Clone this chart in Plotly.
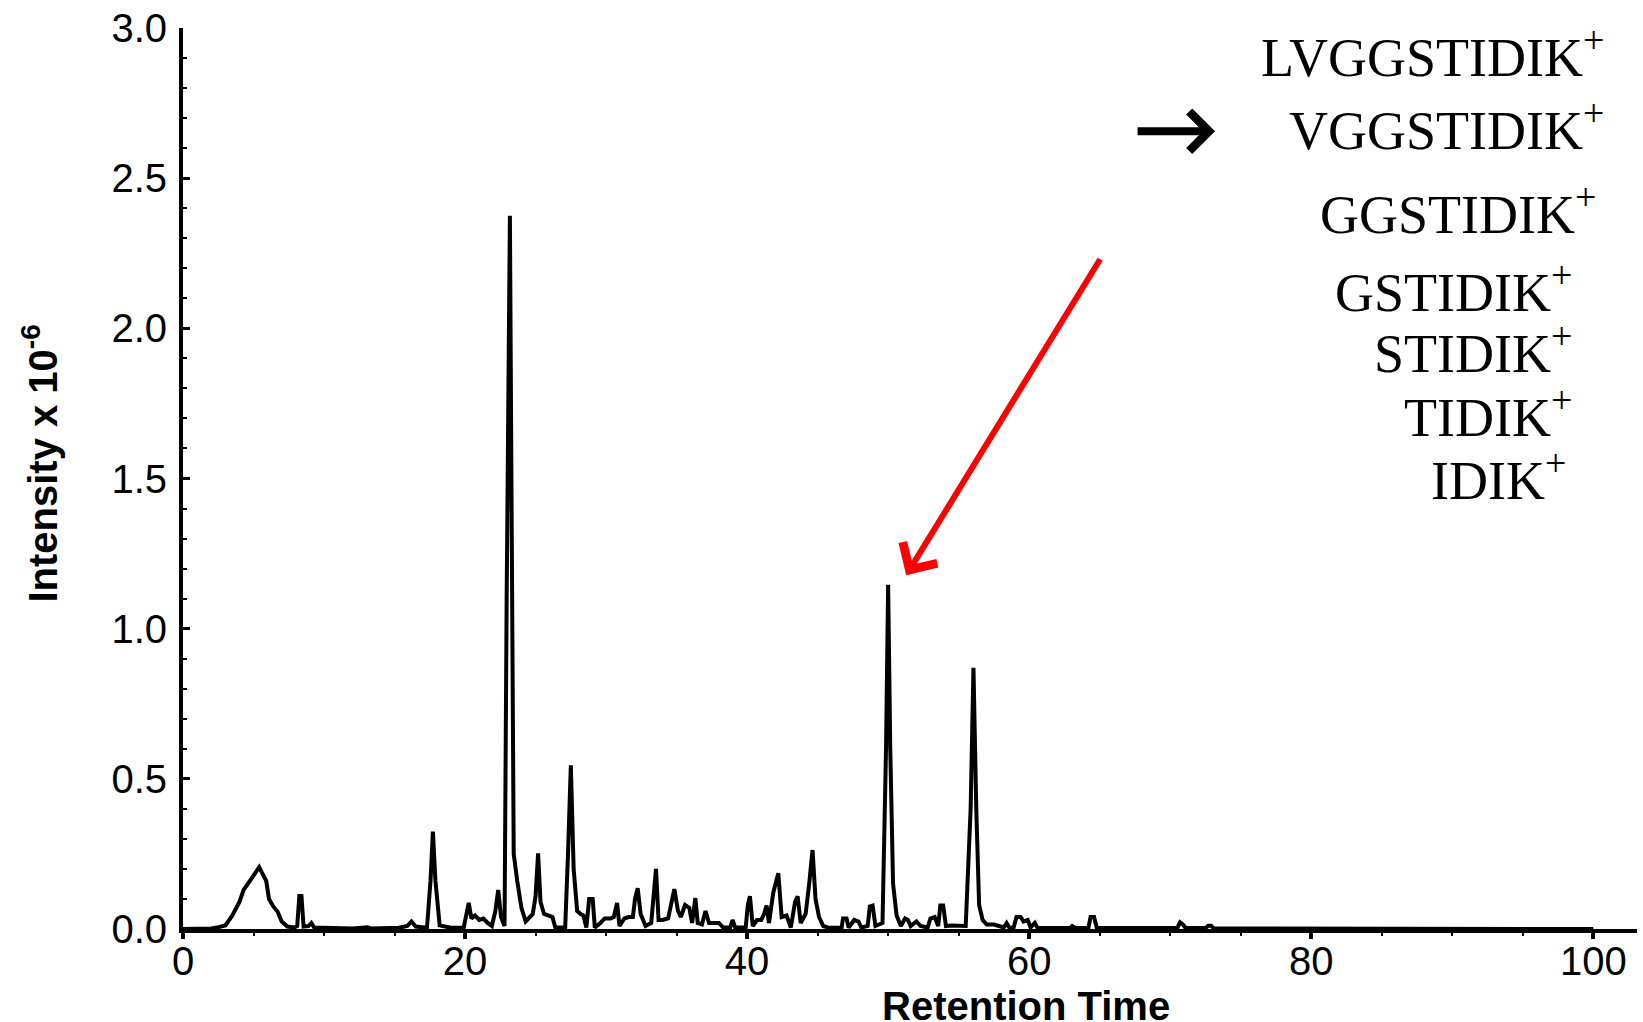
import plotly.graph_objects as go

# Chromatogram vertices (retention time, intensity x 1e-6)
retention_time = [
    0.0, 2.0, 2.5, 3.0, 3.5, 4.0, 4.3, 4.7, 5.0, 5.4, 5.7, 5.9, 6.1, 6.4, 6.7, 7.0, 7.4, 7.9,
    8.1, 8.25, 8.4, 8.55, 8.9, 9.1, 9.3, 12.0, 13.1, 13.3, 15.3, 15.9, 16.2, 16.5,
    17.3, 17.55, 17.72, 17.9, 18.2, 19.0, 19.9, 20.1, 20.26, 20.45, 20.7, 21.0, 21.3, 21.6, 21.9,
    22.15, 22.35, 22.55, 22.8, 22.95, 23.1, 23.18, 23.3, 23.45, 23.7, 24.0, 24.3, 24.55, 24.8,
    25.0, 25.18, 25.35, 25.6, 25.9, 26.2, 26.4, 27.1, 27.3, 27.5, 27.7, 27.95, 28.2, 28.4, 28.6,
    28.8, 29.05, 29.2, 29.6, 29.9, 30.3, 30.55, 30.78, 30.95, 31.3, 31.6, 31.9, 32.05, 32.24,
    32.45, 32.8, 33.2, 33.35, 33.54, 33.72, 34.0, 34.4, 34.6, 34.84, 35.1, 35.3, 35.6, 35.9,
    36.1, 36.33, 36.5, 36.8, 37.05, 37.3, 37.6, 38.0, 38.3, 38.8, 38.97, 39.15, 39.9, 40.05,
    40.2, 40.4, 40.7, 41.0, 41.2, 41.38, 41.55, 41.85, 42.21, 42.45, 42.8, 43.1, 43.4, 43.58,
    43.8, 44.15, 44.4, 44.64, 44.85, 45.1, 45.4, 45.8, 46.7, 46.8, 47.05, 47.2, 47.6, 47.9,
    48.1, 48.55, 48.7, 48.9, 49.1, 49.6, 49.85, 50.0, 50.15, 50.35, 50.6, 50.9, 51.2, 51.4,
    51.6, 52.0, 52.3, 52.8, 53.0, 53.3, 53.55, 53.7, 53.9, 54.1, 54.5, 55.0, 55.5, 55.85,
    56.05, 56.25, 56.45, 56.7, 57.0, 57.5, 57.9, 58.2, 58.4, 58.6, 58.9, 59.1, 59.4, 59.6,
    59.9, 60.1, 60.4, 60.6, 62.9, 63.05, 63.3, 64.2, 64.35, 64.6, 64.8, 68.5, 68.6, 70.5,
    70.7, 70.9, 71.1, 72.5, 72.7, 72.9, 73.1, 75.4, 75.5, 75.7, 100.0,
]
intensity = [
    0.0, 0.002, 0.006, 0.012, 0.045, 0.09, 0.13, 0.16, 0.178, 0.206, 0.18, 0.16, 0.10, 0.075, 0.058, 0.025, 0.008, 0.005,
    0.01, 0.11, 0.11, 0.008, 0.01, 0.02, 0.005, 0.002, 0.006, 0.002, 0.004, 0.01, 0.025, 0.008,
    0.004, 0.16, 0.324, 0.16, 0.012, 0.004, 0.004, 0.06, 0.087, 0.035, 0.045, 0.03, 0.035, 0.02, 0.01,
    0.06, 0.13, 0.04, 0.01, 1.1, 2.3, 2.375, 1.4, 0.25, 0.16, 0.07, 0.025, 0.04, 0.05,
    0.11, 0.252, 0.09, 0.05, 0.045, 0.04, 0.005, 0.005, 0.25, 0.545, 0.2, 0.06, 0.05, 0.045, 0.005,
    0.1, 0.1, 0.005, 0.02, 0.035, 0.035, 0.04, 0.087, 0.01, 0.035, 0.04, 0.04, 0.1, 0.136,
    0.05, 0.01, 0.02, 0.1, 0.2, 0.03, 0.03, 0.035, 0.08, 0.133, 0.06, 0.04, 0.08, 0.07,
    0.02, 0.103, 0.02, 0.015, 0.06, 0.02, 0.02, 0.02, 0.005, 0.005, 0.03, 0.005, 0.005, 0.08,
    0.109, 0.01, 0.03, 0.03, 0.05, 0.078, 0.02, 0.12, 0.186, 0.04, 0.045, 0.005, 0.09, 0.109,
    0.02, 0.05, 0.15, 0.263, 0.1, 0.04, 0.01, 0.004, 0.004, 0.035, 0.035, 0.005, 0.03, 0.025,
    0.005, 0.01, 0.075, 0.078, 0.01, 0.02, 0.6, 1.146, 0.6, 0.15, 0.045, 0.01, 0.035, 0.03,
    0.01, 0.025, 0.01, 0.005, 0.035, 0.04, 0.01, 0.078, 0.078, 0.01, 0.012, 0.01, 0.01, 0.4,
    0.87, 0.4, 0.08, 0.03, 0.015, 0.015, 0.01, 0.005, 0.02, 0.004, 0.005, 0.04, 0.04, 0.025,
    0.03, 0.005, 0.02, 0.003, 0.003, 0.01, 0.003, 0.003, 0.04, 0.04, 0.003, 0.003, 0.004, 0.003,
    0.022, 0.015, 0.003, 0.003, 0.011, 0.011, 0.002, 0.002, 0.005, 0.002, 0.0,
]

peptide_labels = ["LVGGSTIDIK", "VGGSTIDIK", "GGSTIDIK", "GSTIDIK", "STIDIK", "TIDIK", "IDIK"]
x_tick_values = [0, 20, 40, 60, 80, 100]
y_tick_values = [0.0, 0.5, 1.0, 1.5, 2.0, 2.5, 3.0]

# label placement (layout only)
label_right = [100.88, 100.88, 100.3, 98.66, 98.6, 98.6, 98.23]
label_y = [2.915, 2.673, 2.391, 2.133, 1.928, 1.715, 1.506]

fig = go.Figure()
fig.add_trace(go.Scatter(
    x=retention_time, y=intensity, mode="lines",
    line=dict(color="black", width=4), hoverinfo="skip", showlegend=False,
))

tickfont = dict(family="Liberation Sans, Arial, sans-serif", size=40, color="black")

fig.update_layout(
    width=1643, height=1022,
    margin=dict(l=183, r=6, t=24, b=93, pad=0),
    paper_bgcolor="white", plot_bgcolor="white",
    showlegend=False,
    xaxis=dict(
        range=[0, 103.1], tickvals=x_tick_values, ticktext=[str(v) for v in x_tick_values],
        showline=True, linecolor="black", linewidth=4,
        ticks="outside", ticklen=6, tickwidth=4, tickcolor="black",
        minor=dict(dtick=5, tick0=0, ticks="outside", ticklen=3, tickwidth=1.5, tickcolor="black"),
        showgrid=False, zeroline=False, tickfont=tickfont, ticklabelstandoff=-12,
    ),
    yaxis=dict(
        range=[0, 3.0], tickvals=y_tick_values, ticktext=[f"{v:.1f}" for v in y_tick_values],
        showline=True, linecolor="black", linewidth=4,
        ticks="inside", ticklen=7, tickwidth=3, tickcolor="black",
        minor=dict(dtick=0.1, tick0=0, ticks="inside", ticklen=4, tickwidth=1.5, tickcolor="black"),
        showgrid=False, zeroline=False, tickfont=tickfont, ticklabelstandoff=4,
    ),
)

annotations = []
# axis titles
annotations.append(dict(
    text="<b>Retention Time</b>", xref="paper", yref="paper", x=0.58, y=-0.085,
    xanchor="center", yanchor="middle", showarrow=False,
    font=dict(family="Liberation Sans, Arial, sans-serif", size=40, color="black"),
))
annotations.append(dict(
    text="<b>Intensity x 10<sup>-6</sup></b>", xref="paper", yref="paper", x=-0.098, y=0.516,
    xanchor="center", yanchor="middle", textangle=-90, showarrow=False,
    font=dict(family="Liberation Sans, Arial, sans-serif", size=40, color="black"),
))
# peptide labels
for lab, xr, yy in zip(peptide_labels, label_right, label_y):
    annotations.append(dict(
        text=lab + "<sup>+</sup>", xref="x", yref="y", x=xr, y=yy,
        xanchor="right", yanchor="middle", showarrow=False,
        font=dict(family="Liberation Serif, Times New Roman, serif", size=54, color="black"),
    ))
# black arrow pointing at VGGSTIDIK+
annotations.append(dict(
    text="", x=73.18, y=2.656, ax=67.58, ay=2.656, xref="x", yref="y", axref="x", ayref="y",
    showarrow=True, arrowhead=4, arrowsize=0.95, arrowwidth=8, arrowcolor="black", standoff=0,
))
# red arrow pointing at the peak near 50 min
annotations.append(dict(
    text="", x=51.28, y=1.178, ax=65.10, ay=2.235, xref="x", yref="y", axref="x", ayref="y",
    showarrow=True, arrowhead=4, arrowsize=1.3, arrowwidth=6, arrowcolor="red", standoff=0,
))
fig.update_layout(annotations=annotations)

fig.write_html("out.html")
